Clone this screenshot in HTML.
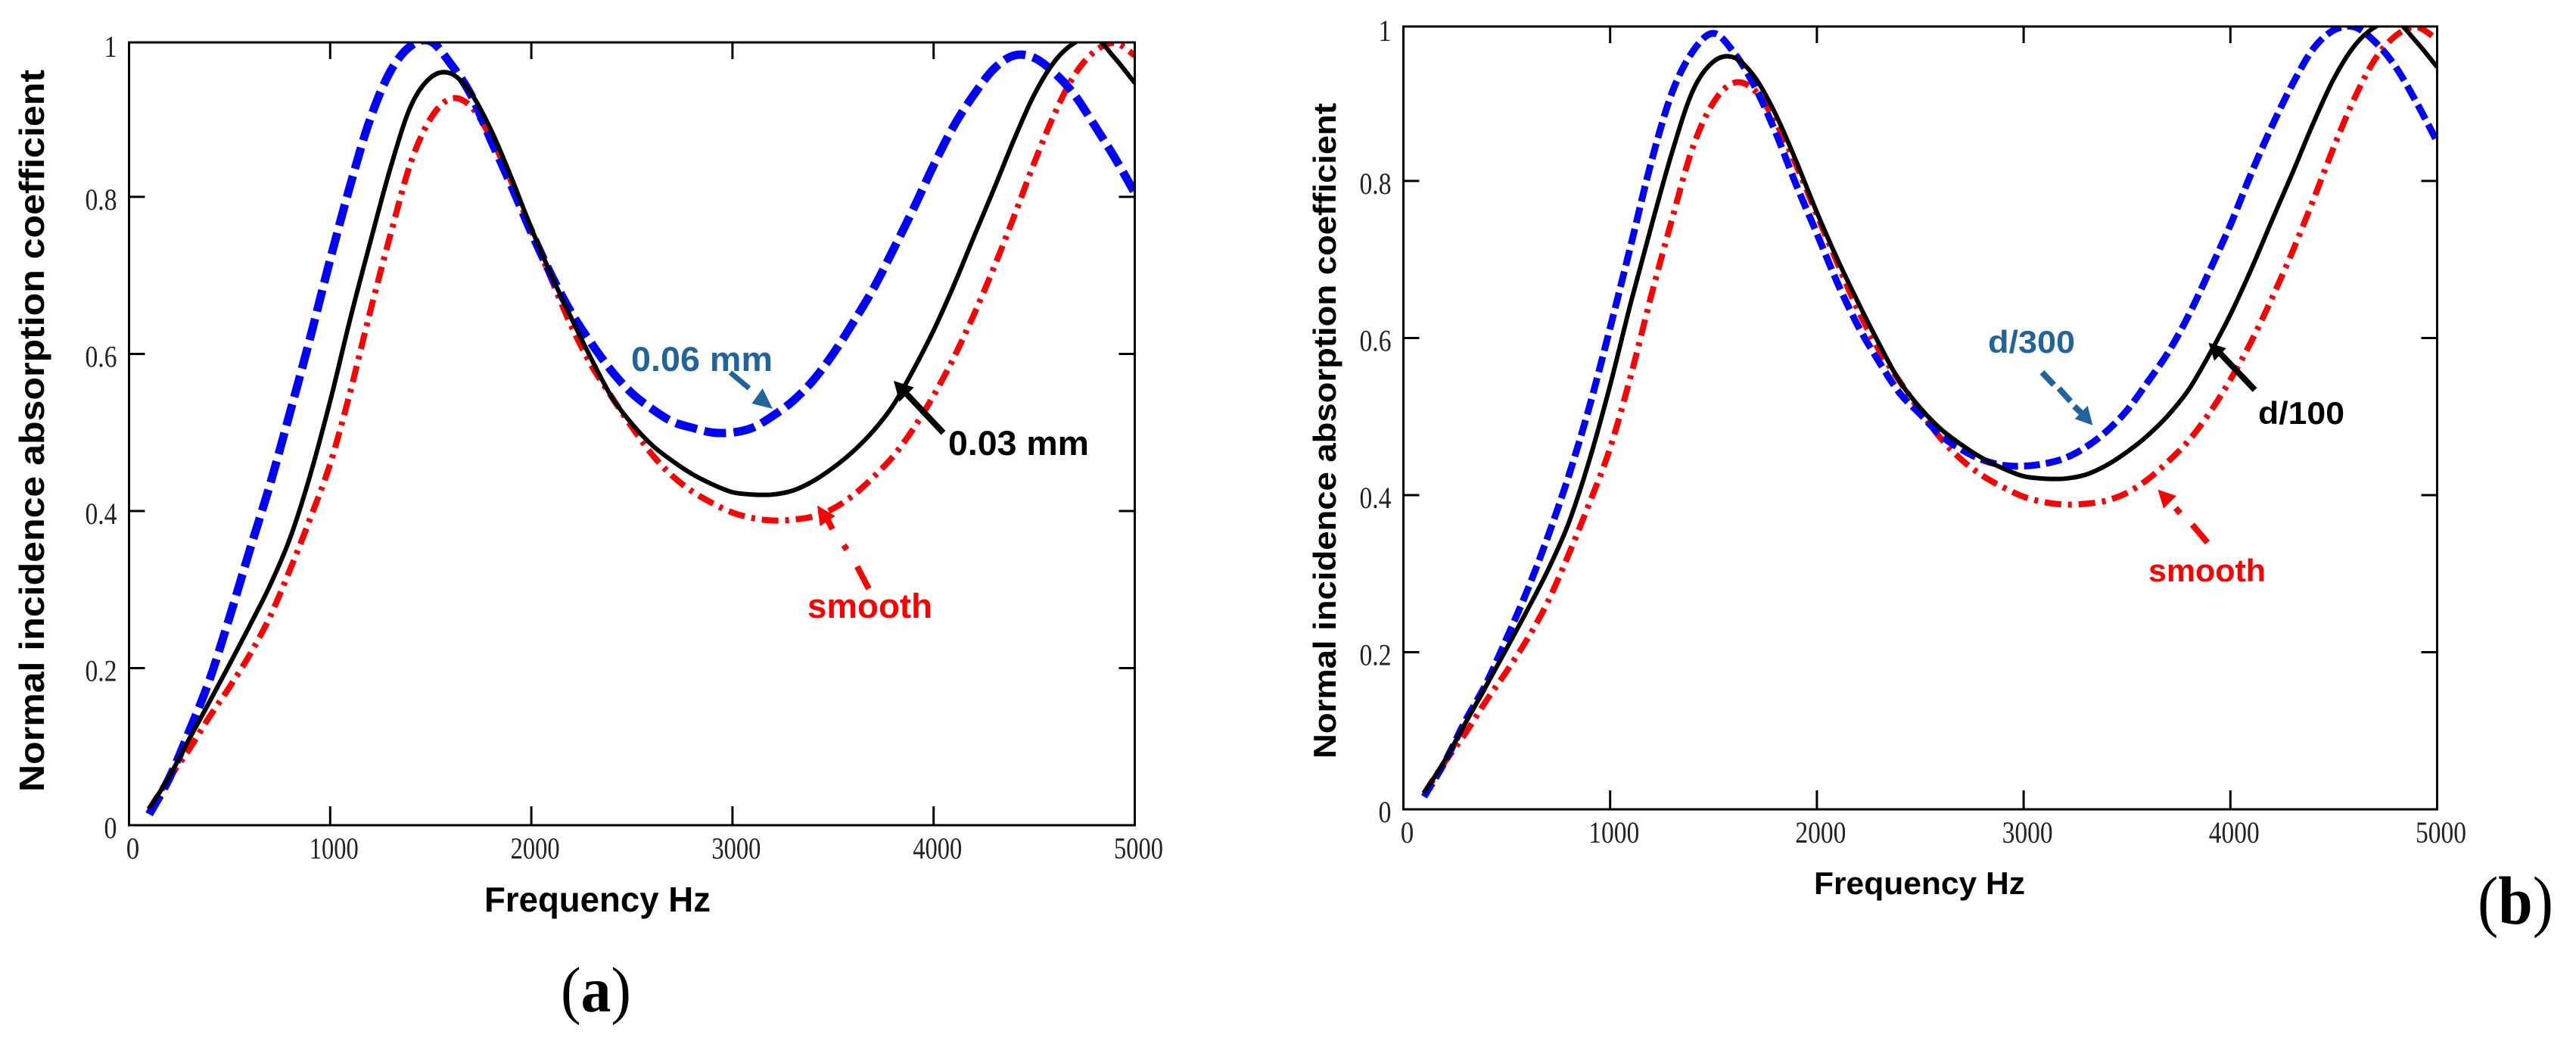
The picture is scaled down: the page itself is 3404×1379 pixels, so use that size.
<!DOCTYPE html>
<html lang="en">
<head>
<meta charset="utf-8">
<title>Normal incidence absorption coefficient</title>
<style>
html,body{margin:0;padding:0;background:#fff;width:3404px;height:1379px;overflow:hidden}
svg{display:block}
.tick{font-family:"Liberation Serif",serif;font-size:40px;fill:#222}
.ttl{font-family:"Liberation Sans",sans-serif;font-weight:700;fill:#000}
.ann{font-family:"Liberation Sans",sans-serif;font-weight:700}
.cap{font-family:"Liberation Serif",serif;fill:#000}
</style>
</head>
<body>
<svg id="fig" xmlns="http://www.w3.org/2000/svg" width="3404" height="1379" viewBox="0 0 3404 1379">
<rect x="0" y="0" width="3404" height="1379" fill="#fff"/>
<defs>
<clipPath id="clip-a"><rect x="170.5" y="56" width="1329.5" height="1034"/></clipPath>
<clipPath id="clip-b"><rect x="1854.5" y="35" width="1366" height="1034"/></clipPath>
</defs>
<g id="panel-a"></g>
<g id="panel-b"></g>

<text class="ttl" transform="translate(58,1046) rotate(-90)" font-size="46" textLength="954" lengthAdjust="spacingAndGlyphs">Normal incidence absorption coefficient</text>
<text class="ttl" x="640" y="1204" font-size="46" textLength="299" lengthAdjust="spacingAndGlyphs">Frequency Hz</text>
<text class="ttl" transform="translate(1765,1002) rotate(-90)" font-size="42" textLength="866" lengthAdjust="spacingAndGlyphs">Normal incidence absorption coefficient</text>
<text class="ttl" x="2397" y="1181" font-size="42" textLength="279" lengthAdjust="spacingAndGlyphs">Frequency Hz</text>

<text class="ann" x="834" y="490" font-size="45" fill="#21639c" textLength="187" lengthAdjust="spacingAndGlyphs">0.06 mm</text>
<g fill="#21639c" stroke="none">
<line x1="965" y1="492" x2="990" y2="513" stroke="#21639c" stroke-width="7"/>
<polygon points="1007.7,513 993.4,533 1021,540"/>
</g>
<text class="ann" x="1253" y="601" font-size="45" fill="#000" textLength="186" lengthAdjust="spacingAndGlyphs">0.03 mm</text>
<g>
<line x1="1246.5" y1="571.7" x2="1193" y2="515" stroke="#000" stroke-width="8"/>
<polygon points="1181,503 1207.7,511.7 1188.5,530.7" fill="#000"/>
</g>
<text class="ann" x="1067" y="816" font-size="45" fill="#f00" textLength="165" lengthAdjust="spacingAndGlyphs">smooth</text>
<g stroke="#f00" stroke-width="8" fill="#f00">
<line x1="1148" y1="777.7" x2="1132.7" y2="748.3"/>
<line x1="1119" y1="726" x2="1115" y2="720"/>
<line x1="1100" y1="699" x2="1094" y2="687"/>
<polygon stroke="none" points="1080,667.7 1103.7,681.7 1083.6,695"/>
</g>

<text class="ann" x="2627" y="466" font-size="42" fill="#21639c" textLength="115" lengthAdjust="spacingAndGlyphs">d/300</text>
<g stroke="#21639c" stroke-width="8" fill="#21639c">
<line x1="2698.4" y1="491.7" x2="2714" y2="508.3"/>
<line x1="2720.7" y1="513" x2="2736" y2="530"/>
<line x1="2741" y1="536.7" x2="2752" y2="547"/>
<polygon stroke="none" points="2765.4,561.7 2758.7,536 2741.7,553.3"/>
</g>
<text class="ann" x="2984" y="560" font-size="42" fill="#000" textLength="114" lengthAdjust="spacingAndGlyphs">d/100</text>
<g>
<line x1="2979.6" y1="515" x2="2930.5" y2="463.3" stroke="#000" stroke-width="8"/>
<polygon points="2918.5,452.7 2941.7,460 2926,476.7" fill="#000"/>
</g>
<text class="ann" x="2839" y="768" font-size="42" fill="#f00" textLength="155" lengthAdjust="spacingAndGlyphs">smooth</text>
<g stroke="#f00" stroke-width="8" fill="#f00">
<line x1="2917" y1="716.7" x2="2897" y2="693"/>
<line x1="2881" y1="678" x2="2875" y2="671"/>
<polygon stroke="none" points="2851.5,646.7 2876,655 2859,671.7"/>
</g>

<text class="cap" x="741" y="1336" font-size="85" textLength="93" lengthAdjust="spacingAndGlyphs">(<tspan font-weight="700">a</tspan>)</text>
<text class="cap" x="3274" y="1220" font-size="90" textLength="100" lengthAdjust="spacingAndGlyphs">(<tspan font-weight="700">b</tspan>)</text>
</svg>

<script>
// Frequency grid in Hz
const frequencies = [100,200,300,400,500,600,700,800,900,1000,1100,1200,1300,1400,1500,1600,1700,1800,1900,2000,2100,2200,2300,2400,2500,2600,2700,2800,2900,3000,3100,3200,3300,3400,3500,3600,3700,3800,3900,4000,4100,4200,4300,4400,4500,4600,4700,4800,4900,5000];

// Panel (a) series
const aRough006 = [.014,.06,.12,.185,.265,.35,.433,.525,.62,.72,.815,.9,.96,.992,.998,.969,.93,.872,.815,.755,.70,.652,.613,.578,.55,.53,.514,.506,.5,.5,.506,.521,.54,.566,.6,.64,.683,.733,.785,.84,.89,.93,.963,.98,.977,.958,.93,.891,.85,.805];
const aRough003 = [.021,.062,.11,.157,.205,.254,.305,.365,.445,.54,.645,.743,.837,.915,.952,.957,.932,.885,.825,.76,.70,.645,.593,.545,.511,.484,.464,.447,.434,.424,.421,.421,.426,.438,.455,.476,.502,.535,.58,.63,.687,.749,.81,.873,.93,.972,.996,1.003,.977,.945];
const aSmooth = [.02,.06,.097,.138,.176,.217,.265,.325,.39,.46,.552,.655,.752,.843,.9,.925,.915,.875,.82,.757,.695,.635,.585,.545,.507,.472,.445,.425,.41,.398,.391,.388,.389,.393,.403,.42,.443,.47,.505,.547,.595,.65,.71,.775,.843,.905,.955,.985,.996,.98];

// Panel (b) series
const bRoughD300 = [.016,.06,.113,.16,.218,.279,.348,.425,.513,.613,.718,.825,.913,.965,.988,.963,.92,.862,.795,.733,.67,.615,.57,.53,.503,.476,.458,.445,.438,.437,.44,.447,.461,.481,.508,.544,.582,.63,.686,.744,.809,.869,.923,.968,.992,.996,.977,.945,.9,.85];
const bRoughD100 = [.021,.062,.11,.157,.205,.254,.305,.365,.445,.54,.645,.743,.837,.915,.952,.957,.932,.885,.825,.76,.70,.645,.593,.545,.511,.484,.464,.447,.434,.424,.421,.421,.426,.438,.455,.476,.502,.535,.58,.63,.687,.749,.81,.873,.93,.972,.996,1.003,.977,.945];
const bSmooth = [.02,.06,.097,.138,.176,.217,.265,.325,.39,.46,.552,.655,.752,.843,.9,.925,.915,.875,.82,.757,.695,.635,.585,.545,.507,.472,.445,.425,.41,.398,.391,.388,.389,.393,.403,.42,.443,.47,.505,.547,.595,.65,.71,.775,.843,.905,.955,.985,.996,.98];

// Axis ticks and their printed labels
const xTicks = [0,1000,2000,3000,4000,5000];
const xTickLabels = ['0','1000','2000','3000','4000','5000'];
const yTicks = [0,0.2,0.4,0.6,0.8,1];
const yTickLabels = ['0','0.2','0.4','0.6','0.8','1'];

const NS = 'http://www.w3.org/2000/svg';

function smoothPath(xs, ys, sx, sy) {
  const p = xs.map(function (x, i) { return [sx(x), sy(ys[i])]; });
  let d = 'M' + p[0][0].toFixed(1) + ' ' + p[0][1].toFixed(1);
  for (let i = 0; i < p.length - 1; i++) {
    const p0 = p[Math.max(i - 1, 0)], p1 = p[i], p2 = p[i + 1], p3 = p[Math.min(i + 2, p.length - 1)];
    const c1x = p1[0] + (p2[0] - p0[0]) / 6, c1y = p1[1] + (p2[1] - p0[1]) / 6;
    const c2x = p2[0] - (p3[0] - p1[0]) / 6, c2y = p2[1] - (p3[1] - p1[1]) / 6;
    d += 'C' + c1x.toFixed(1) + ' ' + c1y.toFixed(1) + ' ' + c2x.toFixed(1) + ' ' + c2y.toFixed(1) + ' ' + p2[0].toFixed(1) + ' ' + p2[1].toFixed(1);
  }
  return d;
}

function drawPanel(opt) {
  const g = document.getElementById(opt.id);
  const sx = function (hz) { return opt.x0 + hz * opt.kx; };
  const sy = function (v) { return opt.y0 - v * 1037.5; };
  const right = sx(5000), top = opt.top, bottom = opt.y0;

  const curves = document.createElementNS(NS, 'g');
  
  
  curves.setAttribute('clip-path', 'url(#' + opt.clip + ')');
  g.appendChild(curves);

  opt.series.forEach(function (s) {
    const path = document.createElementNS(NS, 'path');
    
    
    path.setAttribute('d', smoothPath(frequencies, s.values, sx, sy));
    path.setAttribute('fill', 'none');
    path.setAttribute('stroke', s.color);
    path.setAttribute('stroke-width', s.width);
    if (s.dash) path.setAttribute('stroke-dasharray', s.dash);
    curves.appendChild(path);
  });

  const frame = document.createElementNS(NS, 'rect');
  
  
  frame.setAttribute('x', opt.x0);
  frame.setAttribute('y', top);
  frame.setAttribute('width', right - opt.x0);
  frame.setAttribute('height', bottom - top);
  frame.setAttribute('fill', 'none');
  frame.setAttribute('stroke', '#000');
  frame.setAttribute('stroke-width', '3');
  g.appendChild(frame);

  xTicks.forEach(function (t, i) {
    const px = sx(t);
    if (i > 0 && i < xTicks.length - 1) {
      [[bottom, bottom - 25], [top, top + 22]].forEach(function (seg) {
        const ln = document.createElementNS(NS, 'line');
        
        
        ln.setAttribute('x1', px);
        ln.setAttribute('x2', px);
        ln.setAttribute('y1', seg[0]);
        ln.setAttribute('y2', seg[1]);
        ln.setAttribute('stroke', '#000');
        ln.setAttribute('stroke-width', '3');
        g.appendChild(ln);
      });
    }
    const lab = document.createElementNS(NS, 'text');
    
    
    lab.setAttribute('class', 'tick');
    const w = xTickLabels[i].length === 1 ? 17.5 : opt.xw;
    lab.setAttribute('x', px + 5 - w / 2);
    lab.setAttribute('y', bottom + 44);
    lab.setAttribute('textLength', w);
    lab.setAttribute('lengthAdjust', 'spacingAndGlyphs');
    lab.textContent = xTickLabels[i];
    g.appendChild(lab);
  });

  yTicks.forEach(function (t, i) {
    const py = sy(t);
    if (i > 0 && i < yTicks.length - 1) {
      [[opt.x0, opt.x0 + 21], [right, right - 21]].forEach(function (seg) {
        const ln = document.createElementNS(NS, 'line');
        
        
        ln.setAttribute('x1', seg[0]);
        ln.setAttribute('x2', seg[1]);
        ln.setAttribute('y1', py);
        ln.setAttribute('y2', py);
        ln.setAttribute('stroke', '#000');
        ln.setAttribute('stroke-width', '3');
        g.appendChild(ln);
      });
    }
    const lab = document.createElementNS(NS, 'text');
    
    
    lab.setAttribute('class', 'tick');
    const w = yTickLabels[i].length === 1 ? 17 : 42;
    lab.setAttribute('x', opt.x0 - 16 - w);
    lab.setAttribute('y', i === yTicks.length - 1 ? top + 19 : py + 17);
    lab.setAttribute('textLength', w);
    lab.setAttribute('lengthAdjust', 'spacingAndGlyphs');
    lab.textContent = yTickLabels[i];
    g.appendChild(lab);
  });
}

drawPanel({
  id: 'panel-a', clip: 'clip-a', x0: 170.5, kx: 0.2658, y0: 1090, top: 56, xw: 65,
  series: [
    { name: 'curve-smooth', values: aSmooth, color: '#f00', width: 8, dash: '22 9 5 9' },
    { name: 'curve-0-06-mm', values: aRough006, color: '#00f', width: 11, dash: '29 10' },
    { name: 'curve-0-03-mm', values: aRough003, color: '#000', width: 6 }
  ]
});
drawPanel({
  id: 'panel-b', clip: 'clip-b', x0: 1854.5, kx: 0.2732, y0: 1069, top: 35, xw: 67,
  series: [
    { name: 'curve-smooth', values: bSmooth, color: '#f00', width: 8, dash: '22 9 5 9' },
    { name: 'curve-d-300', values: bRoughD300, color: '#00f', width: 9, dash: '21 8' },
    { name: 'curve-d-100', values: bRoughD100, color: '#000', width: 6 }
  ]
});
</script>
</body>
</html>
